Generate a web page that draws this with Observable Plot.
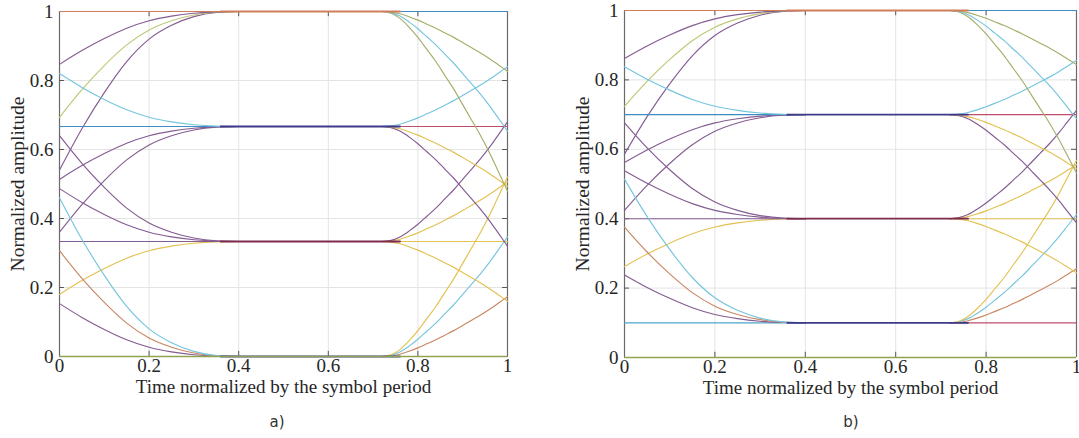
<!DOCTYPE html>
<html><head><meta charset="utf-8">
<script src="https://cdn.jsdelivr.net/npm/d3@7"></script>
<script src="https://cdn.jsdelivr.net/npm/@observablehq/plot@0.6"></script>
<style>
body{margin:0;background:#fff;}
#wrap{position:relative;width:1079px;height:438px;overflow:hidden;background:#fff;}
.panel{position:absolute;top:0;}
.cap{position:absolute;top:413px;font-family:"DejaVu Sans",sans-serif;font-size:15px;color:#333;transform:translateX(-50%);}
</style></head><body><div id="wrap"></div>
<script>
// Signal levels of the two eye diagrams
const levelsA = [0, 1/3, 2/3, 1];
const levelsB = [0.1, 0.4, 0.7, 1];
// Transition profile (fraction of the step completed)
const convT = [0, 0.05, 0.1, 0.15, 0.2, 0.25, 0.3, 0.35, 0.4];
const convS = [0.54, 0.66, 0.765, 0.855, 0.92, 0.96, 0.985, 0.997, 1];
const divT = [0.72, 0.74, 0.76, 0.78, 0.8, 0.82, 0.84, 0.86, 0.88, 0.9, 0.92, 0.94, 0.96, 0.98, 1];
const divS = [0, 0.005, 0.02, 0.045, 0.075, 0.11, 0.145, 0.185, 0.225, 0.27, 0.315, 0.36, 0.41, 0.465, 0.52];
// Flat eye-opening segment
const flatT = [0.36, 0.76];
// Axis ticks and labels
const xTicks = [0, 0.2, 0.4, 0.6, 0.8, 1];
const yTicks = [0, 0.2, 0.4, 0.6, 0.8, 1];
const tickLabels = ["0", "0.2", "0.4", "0.6", "0.8", "1"];
const xTitle = "Time normalized by the symbol period";
const yTitle = "Normalized amplitude";
const captions = ["a)", "b)"];
// Trace colours: arrive[to][from], depart[from][to]
const arrive = [
  ["teal", "purple", "brown", "cyan"],
  ["yellow", "purple", "purple", "purple"],
  ["purple", "purple", "blue", "cyan"],
  ["purple", "lime", "purple", "orange"]
];
const depart = [
  ["red", "brown", "cyan", "yellow"],
  ["yellow", "yellow", "yellow", "purple"],
  ["purple", "yellow", "red", "cyan"],
  ["olive", "cyan", "olive", "blue"]
];
const middleA = ["navy", "darkred", "navy", "orange"];
const middleB = ["navy", "darkred", "navy", "orange"];
const palette = {
  purple: "#845c92", cyan: "#76c5df", yellow: "#e3c152", brown: "#c98763",
  olive: "#a5af6b", lime: "#bec876", blue: "#3f8bc4", red: "#be4d6b",
  orange: "#cf7d5a", teal: "#52a5ca", navy: "#3d3a8a", darkred: "#7e2a4c"
};
const serif = "Liberation Serif";

function traces(levels, middle) {
  const rows = [];
  let id = 0;
  for (let i = 0; i < levels.length; i++) {
    for (let j = 0; j < levels.length; j++) {
      convT.forEach((t, k) => rows.push({id: "c" + id, t, v: levels[i] + (levels[j] - levels[i]) * convS[k], color: palette[arrive[j][i]]}));
      divT.forEach((t, k) => rows.push({id: "d" + id, t, v: levels[i] + (levels[j] - levels[i]) * divS[k], color: palette[depart[i][j]]}));
      id++;
    }
  }
  levels.forEach((L, k) => flatT.forEach(t => rows.push({id: "m" + k, t, v: L, color: palette[middle[k]]})));
  return rows;
}

function panel(levels, middle, o) {
  const rows = traces(levels, middle);
  const ids = Array.from(new Set(rows.map(r => r.id)));
  const fmt = d => tickLabels[xTicks.indexOf(d)];
  const lineMarks = (p, w, curve) => ids.filter(k => k[0] === p).map(k =>
    Plot.line(rows.filter(r => r.id === k), {x: "t", y: "v", stroke: "color", strokeWidth: w, curve}));
  return Plot.plot({
    width: o.width, height: 400,
    marginLeft: o.ml, marginRight: o.mr, marginTop: o.mt, marginBottom: o.mb,
    x: {domain: [0, 1], label: null}, y: {domain: [0, 1], label: null},
    style: {fontFamily: serif, fontSize: "18px", color: "#262626", background: "transparent", overflow: "visible"},
    marks: [
      Plot.ruleX(xTicks.slice(1, -1), {stroke: "#e4e4e4", strokeWidth: 1}),
      Plot.ruleY(yTicks.slice(1, -1), {stroke: "#e4e4e4", strokeWidth: 1}),
      Plot.ruleX([0, 1], {stroke: "#6a6a6a", strokeWidth: 1.2}),
      Plot.ruleX(xTicks.slice(1, -1), {y1: 0, y2: 0.015, stroke: "#555"}),
      Plot.ruleX(xTicks.slice(1, -1), {y1: 0.985, y2: 1, stroke: "#555"}),
      Plot.ruleY(yTicks.slice(1, -1), {x1: 0, x2: 0.011, stroke: "#555"}),
      Plot.ruleY(yTicks.slice(1, -1), {x1: 0.989, x2: 1, stroke: "#555"}),
      ...lineMarks("c", 1.15, "monotone-x"),
      ...lineMarks("d", 1.15, "monotone-x"),
      ...lineMarks("m", 1.8, "linear"),
      Plot.ruleY([0], {stroke: "#8fa352", strokeWidth: 1.5}),
      Plot.axisX({ticks: xTicks, tickFormat: fmt, tickSize: 0, tickPadding: 2, fontSize: 19, fontFamily: serif, label: null}),
      Plot.axisY({ticks: yTicks, tickFormat: fmt, tickSize: 0, tickPadding: 6, fontSize: 19, fontFamily: serif, label: null}),
      Plot.text([xTitle], {frameAnchor: "bottom", lineAnchor: "middle", dy: 30, fontSize: 19, fontFamily: serif}),
      Plot.text([yTitle], {frameAnchor: "left", textAnchor: "middle", lineAnchor: "middle", dx: -42, rotate: -90, fontSize: 19.5, fontFamily: serif})
    ]
  });
}

const wrap = document.getElementById("wrap");
const pa = panel(levelsA, middleA, {width: 540, ml: 59, mr: 33, mt: 11, mb: 44});
pa.classList.add("panel"); pa.style.left = "0px";
wrap.appendChild(pa);
const pb = panel(levelsB, middleB, {width: 539, ml: 84, mr: 3, mt: 10, mb: 43});
pb.classList.add("panel"); pb.style.left = "540px";
wrap.appendChild(pb);
[[captions[0], 277], [captions[1], 851]].forEach(([c, x]) => {
  const d = document.createElement("div");
  d.className = "cap"; d.textContent = c; d.style.left = x + "px";
  wrap.appendChild(d);
});
</script></body></html>
